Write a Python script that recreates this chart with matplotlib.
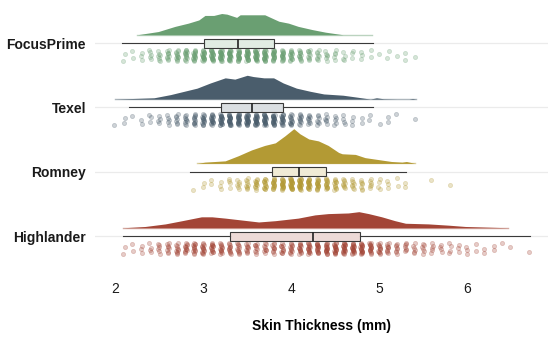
import numpy as np
import matplotlib.pyplot as plt

plt.rcParams['font.family'] = ['Liberation Sans', 'DejaVu Sans']

breeds = ['Highlander', 'Romney', 'Texel', 'FocusPrime']
colors = ['#a34536', '#b39a34', '#4a5d6c', '#6a9f72']

# skin thickness readings: first value and counts per 0.1 mm step
hl_start = 2.1
hl_counts = [2, 2, 3, 4, 6, 8, 10, 12, 13, 14, 14, 13, 12, 11, 10, 9, 9, 10, 11, 12,
             14, 16, 17, 18, 19, 20, 20, 19, 16, 13, 10, 8, 7, 6, 6, 5, 4, 4, 3, 3,
             2, 2, 2, 1, 1, 0, 1]
ro_start = 2.9
ro_counts = [1, 2, 2, 3, 4, 6, 9, 12, 15, 18, 22, 28, 26, 21, 19, 16, 12, 9, 8, 7,
             6, 4, 3, 2, 2, 0, 0, 1, 0, 1]
tx_start = 2.0
tx_counts = [1, 2, 1, 2, 3, 4, 5, 7, 9, 12, 15, 18, 22, 24, 23, 26, 25, 24, 23, 18,
             14, 11, 9, 7, 6, 5, 4, 3, 2, 2, 1, 2, 1, 0, 1]
fp_start = 2.1
fp_counts = [2, 2, 3, 5, 7, 10, 13, 15, 18, 22, 24, 26, 25, 22, 25, 26, 25, 21, 18, 15,
             13, 10, 8, 6, 5, 4, 3, 3, 2, 1, 2, 1, 2, 1]

# density curves (x in mm, height in row units)
hl_dx = [2.09, 2.34, 2.57, 2.76, 2.98, 3.10, 3.25, 3.44, 3.63, 3.82, 4.08, 4.27, 4.42,
         4.65, 4.77, 4.88, 5.03, 5.18, 5.30, 5.56, 5.79, 5.98, 6.47]
hl_dy = [0, 0.02, 0.06, 0.11, 0.17, 0.17, 0.15, 0.12, 0.09, 0.11, 0.15, 0.20, 0.22,
         0.23, 0.25, 0.22, 0.17, 0.11, 0.07, 0.06, 0.04, 0.02, 0]
ro_dx = [2.93, 3.02, 3.25, 3.40, 3.55, 3.70, 3.82, 3.93, 4.03, 4.10, 4.20, 4.31, 4.42,
         4.54, 4.58, 4.73, 4.84, 4.99, 5.14, 5.26, 5.31, 5.41]
ro_dy = [0, 0.02, 0.04, 0.12, 0.21, 0.28, 0.32, 0.43, 0.54, 0.46, 0.38, 0.35, 0.28,
         0.17, 0.15, 0.14, 0.09, 0.06, 0.03, 0.02, 0.03, 0]
tx_dx = [2.00, 2.44, 2.63, 2.78, 2.93, 3.08, 3.25, 3.36, 3.50, 3.57, 3.69, 3.80, 3.91,
         4.06, 4.22, 4.37, 4.59, 4.75, 4.90, 4.97, 5.05, 5.20, 5.34, 5.38, 5.42]
tx_dy = [0, 0.02, 0.07, 0.12, 0.17, 0.25, 0.33, 0.31, 0.37, 0.35, 0.33, 0.33, 0.25,
         0.17, 0.12, 0.08, 0.06, 0.03, 0, 0.02, 0.005, 0, 0, 0.01, 0]
fp_dx = [2.25, 2.49, 2.68, 2.83, 2.95, 3.02, 3.12, 3.21, 3.27, 3.38, 3.42, 3.53, 3.70,
         3.78, 3.86, 3.97, 4.08, 4.24, 4.39, 4.59, 4.92]
fp_dy = [0, 0.05, 0.13, 0.18, 0.23, 0.30, 0.30, 0.33, 0.32, 0.27, 0.31, 0.31, 0.31,
         0.26, 0.21, 0.18, 0.13, 0.08, 0.04, 0, 0]

# box summaries: whisker low, q1, median, q3, whisker high
hl_box = [2.09, 3.30, 4.25, 4.78, 6.72]
ro_box = [2.85, 3.78, 4.09, 4.40, 5.31]
tx_box = [2.16, 3.20, 3.55, 3.91, 4.93]
fp_box = [2.08, 3.01, 3.40, 3.81, 4.93]

starts = [hl_start, ro_start, tx_start, fp_start]
counts = [hl_counts, ro_counts, tx_counts, fp_counts]
dens_x = [hl_dx, ro_dx, tx_dx, fp_dx]
dens_y = [hl_dy, ro_dy, tx_dy, fp_dy]
boxes = [hl_box, ro_box, tx_box, fp_box]


def expand(start, cnts):
    vals = []
    for i, c in enumerate(cnts):
        vals += [round(start + 0.1 * i, 1)] * c
    return np.array(vals)


def lighten(col, a):
    rgb = np.array(plt.matplotlib.colors.to_rgb(col))
    return tuple(1 - a * (1 - rgb))


fig = plt.figure(figsize=(5.48, 3.43), dpi=100)
ax = fig.add_axes([0.1734, 0.1953, 0.8266, 0.8047])

for i in range(4):
    ax.axhline(i, color='#ebebeb', lw=0.9, zorder=0)

for i in range(4):
    c = colors[i]
    base = i + 0.13
    dx = np.array(dens_x[i])
    dy = np.array(dens_y[i])
    ax.fill_between(dx, base, base + dy, color=c, lw=0, zorder=2)
    ax.plot([dx[0], dx[-1]], [base, base], color=c, alpha=0.45, lw=1.0, zorder=1)

    vals = expand(starts[i], counts[i])
    k = np.arange(len(vals))
    jy = ((k * 0.6180339887) % 1 - 0.5) * 0.18
    jx = ((k * 0.7548776662) % 1 - 0.5) * 0.025
    ax.scatter(vals + jx, i - 0.19 + jy, s=9, facecolor=c, edgecolor=c,
               alpha=0.27, linewidths=0.6, zorder=3)

stats = []
for b in boxes:
    stats.append({'whislo': b[0], 'q1': b[1], 'med': b[2], 'q3': b[3],
                  'whishi': b[4], 'fliers': []})
bp = ax.bxp(stats, positions=range(4), widths=0.14, vert=False, patch_artist=True,
            showcaps=False, showfliers=False, manage_ticks=False,
            boxprops=dict(edgecolor='#3a3a3a', linewidth=0.8),
            whiskerprops=dict(color='#3a3a3a', linewidth=0.8),
            medianprops=dict(color='#222222', linewidth=1.2))
for patch, c in zip(bp['boxes'], colors):
    patch.set_facecolor(lighten(c, 0.2))
    patch.set_zorder(4)
for art in bp['whiskers'] + bp['medians']:
    art.set_zorder(4)

ax.set_xlim(1.77, 6.92)
ax.set_ylim(-0.62, 3.67)
ax.set_xticks([2, 3, 4, 5, 6])
ax.set_yticks(range(4))
ax.set_yticklabels(breeds, fontsize=10, fontweight='bold', color='#1a1a1a')
ax.tick_params(axis='x', length=0, labelsize=10, pad=4, labelcolor='#1a1a1a')
ax.tick_params(axis='y', length=0, pad=6.5)
ax.set_xlabel('Skin Thickness (mm)', fontsize=10, fontweight='bold', labelpad=17)
for s in ax.spines.values():
    s.set_visible(False)

fig.savefig('out.png', dpi=100)
